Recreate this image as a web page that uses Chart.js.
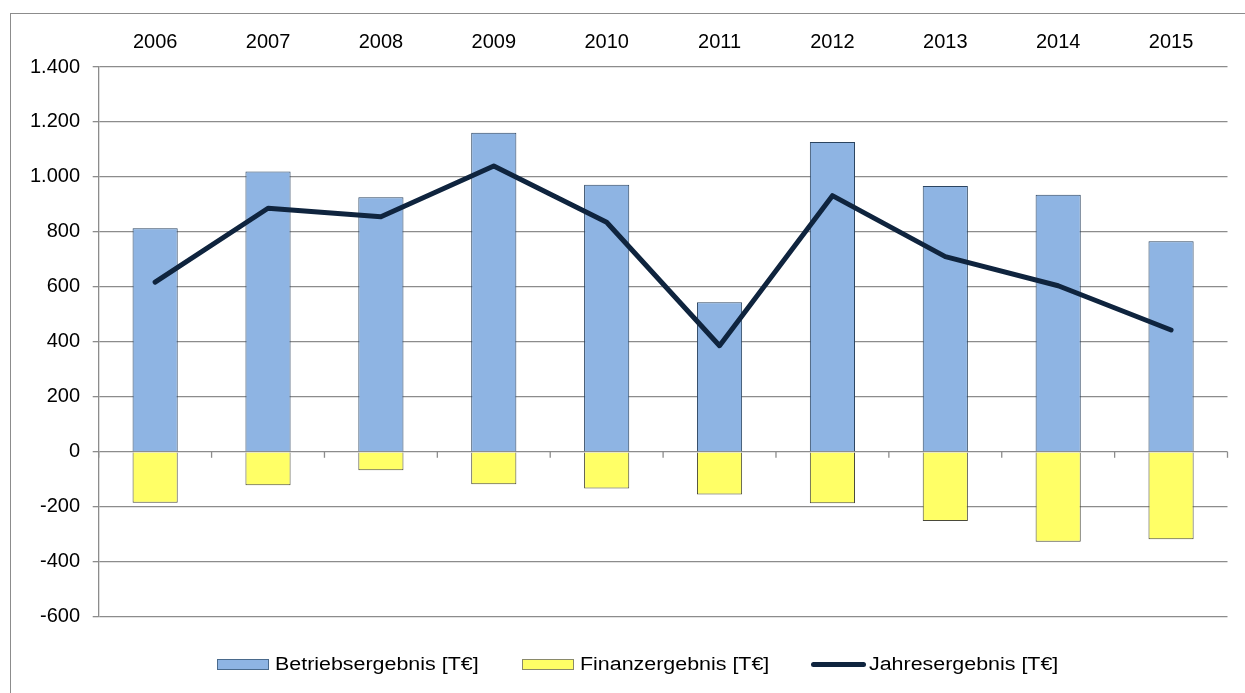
<!DOCTYPE html>
<html><head><meta charset="utf-8">
<script src="https://cdn.jsdelivr.net/npm/chart.js@4/dist/chart.umd.min.js"></script>
<style>
html,body{margin:0;padding:0;background:#fff;}
#wrap{position:relative;width:1245px;height:693px;overflow:hidden;background:#fff;}
#frame{position:absolute;left:10px;top:13px;width:1250px;height:700px;border-left:1.5px solid #8c8c8c;border-top:1.5px solid #8c8c8c;}
canvas{position:absolute;left:0;top:0;}
#legend{position:absolute;left:0;top:654px;width:1245px;height:22px;font-family:"Liberation Sans",Arial,sans-serif;font-size:18px;color:#000;white-space:nowrap;line-height:20px;}
.item{position:absolute;top:0;display:flex;align-items:center;height:20px;}
.sw{width:50px;height:9px;margin-right:6px;}
.ln{width:55px;height:5px;border-radius:3px;margin-right:3px;}
.tx{display:inline-block;transform:scaleX(1.19);transform-origin:0 50%;}
</style>
</head><body>
<div id="wrap">
<div id="frame"></div>
<canvas id="c" width="1245" height="693"></canvas>
<div id="legend"></div>
</div>
<script>
const categories = ['2006','2007','2008','2009','2010','2011','2012','2013','2014','2015'];
const betriebsergebnis = [813, 1020, 926, 1161, 972, 544, 1127, 967, 935, 766];
const finanzergebnis = [-185, -122, -67, -118, -134, -155, -187, -252, -327, -318];
const jahresergebnis = [617, 886, 855, 1040, 835, 386, 932, 710, 604, 443];
const seriesLabels = ['Betriebsergebnis [T€]', 'Finanzergebnis [T€]', 'Jahresergebnis [T€]'];
const yMin = -600, yMax = 1400, yStep = 200;

const FONT = '"Liberation Sans", Arial, sans-serif';
const GRID = '#8c8c8c';

function fmt(v){
  const neg = v < 0; let s = String(Math.abs(v));
  s = s.replace(/\B(?=(\d{3})+(?!\d))/g, '.');
  return (neg ? '-' : '') + s;
}

const zeroTicks = {
  id: 'zeroTicks',
  beforeDatasetsDraw(chart){
    const x = chart.scales.x, y = chart.scales.y, ctx = chart.ctx;
    const y0 = y.getPixelForValue(0);
    const n = categories.length;
    const w = (x.right - x.left) / n;
    ctx.save();
    ctx.strokeStyle = GRID; ctx.lineWidth = 1.3;
    for (let i = 0; i <= n; i++){
      const px = x.left + i * w;
      ctx.beginPath(); ctx.moveTo(px, y0); ctx.lineTo(px, y0 + 6); ctx.stroke();
    }
    ctx.restore();
  }
};

const chart = new Chart(document.getElementById('c'), {
  data: {
    labels: categories,
    datasets: [
      { type: 'line', label: seriesLabels[2], data: jahresergebnis, borderColor: '#0f243e', borderWidth: 5,
        pointRadius: 0, fill: false, tension: 0, order: 0, borderCapStyle: 'round', borderJoinStyle: 'round' },
      { type: 'bar', label: seriesLabels[0], data: betriebsergebnis, backgroundColor: '#8eb4e3', borderColor: '#2b4460',
        borderWidth: 1, barPercentage: 0.4, categoryPercentage: 1, order: 1 },
      { type: 'bar', label: seriesLabels[1], data: finanzergebnis, backgroundColor: '#ffff66', borderColor: '#4a4a3a',
        borderWidth: 1, barPercentage: 0.4, categoryPercentage: 1, order: 1 }
    ]
  },
  options: {
    responsive: false, animation: false, devicePixelRatio: 1,
    layout: { padding: { left: 0, right: 17.5, top: 0, bottom: 76.3 } },
    plugins: { legend: { display: false }, tooltip: { enabled: false } },
    scales: {
      x: {
        type: 'category', position: 'top', stacked: true, offset: true,
        grid: { display: false, drawTicks: false }, border: { display: false },
        ticks: { color: '#000', font: { family: FONT, size: 20 }, padding: 13, maxRotation: 0 },
        afterFit(s){ s.height = 67; }
      },
      y: {
        min: yMin, max: yMax, stacked: false,
        ticks: { stepSize: yStep, color: '#000', font: { family: FONT, size: 20 }, padding: 12.7, callback: v => fmt(v) },
        grid: { color: GRID, lineWidth: 1.3, tickLength: 6, drawTicks: true },
        border: { display: true, color: GRID, width: 1.3 },
        afterFit(s){ s.width = 98.7; }
      }
    }
  },
  plugins: [zeroTicks]
});

// HTML legend built from the datasets
const lg = document.getElementById('legend');
const legendLeft = [217, 522, 811];
[1, 2, 0].forEach((i, k) => {
  const ds = chart.data.datasets[i];
  const item = document.createElement('div'); item.className = 'item';
  item.style.left = legendLeft[k] + 'px';
  const sw = document.createElement('span');
  if (ds.type === 'line') { sw.className = 'ln'; sw.style.background = ds.borderColor; }
  else { sw.className = 'sw'; sw.style.background = ds.backgroundColor; sw.style.border = '1px solid ' + (i === 1 ? '#4a6a8c' : '#8a8a6a'); }
  const tx = document.createElement('span'); tx.className = 'tx'; tx.textContent = ds.label;
  item.appendChild(sw); item.appendChild(tx); lg.appendChild(item);
});
</script>
</body></html>
